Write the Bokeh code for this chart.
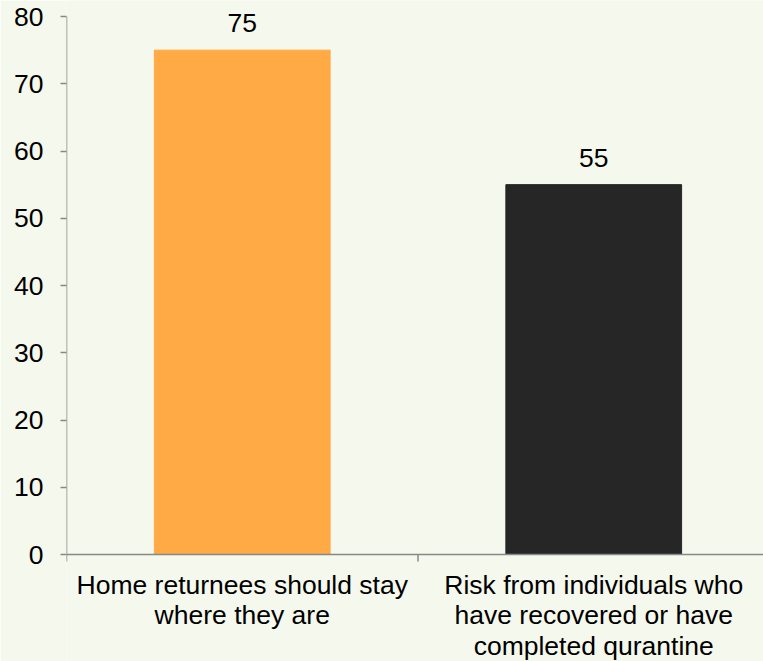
from bokeh.plotting import figure
from bokeh.models import FixedTicker, Span, ColumnDataSource, Range1d
from bokeh.core.properties import value
from bokeh.embed import file_html
from bokeh.resources import INLINE

categories = ["Home returnees should stay\nwhere they are",
              "Risk from individuals who\nhave recovered or have\ncompleted qurantine"]
values = [75, 55]
colors = ["#FFAA44", "#262626"]
y_ticks = [0, 10, 20, 30, 40, 50, 60, 70, 80]

BG = "#F5F8EC"
GRAY = "#888888"
FONT = "Liberation Sans"
FS = "26.5px"

xs = [i + 0.5 for i in range(len(categories))]
src = ColumnDataSource(dict(x=xs, top=values, color=colors, label=[str(v) for v in values],
                            cat=categories, zero=[0] * len(xs)))

# frame spans the full height; y=80 sits 16px below top, y=0 at 554px
ppu = 538 / 80.0
y_max = 80 + 16 / ppu
y_min = -(661 - 554) / ppu
tick_len = 7 / ppu

p = figure(width=763, height=661, output_backend="svg", toolbar_location=None,
           x_range=Range1d(0, 1.983), y_range=Range1d(y_min, y_max),
           min_border_left=66, min_border_top=0, min_border_right=0, min_border_bottom=0)
p.background_fill_color = BG
p.border_fill_color = BG
p.outline_line_color = None
p.grid.visible = False
p.xaxis.visible = False

p.vbar(x="x", top="top", bottom=0, width=0.5, color="color", source=src)
p.text(x="x", y="top", text="label", source=src, text_align="center",
       text_baseline="alphabetic", y_offset=-27, text_font=value(FONT),
       text_font_size=FS, text_color="#000000")

# category labels under the baseline
p.text(x="x", y="zero", text="cat", source=src, text_align="center",
       text_baseline="top", y_offset=15, text_font=value(FONT),
       text_font_size=FS, text_line_height=1.03, text_color="#000000")

# x axis baseline at 0, y axis line, and category separator tick
p.add_layout(Span(location=0, dimension="width", line_color=GRAY, line_width=1.5))
p.segment(x0=[0, 1], y0=[80, 0], x1=[0, 1], y1=[-tick_len, -tick_len],
          line_color=GRAY, line_width=1.5)

ya = p.yaxis[0]
ya.ticker = FixedTicker(ticks=y_ticks)
ya.axis_line_color = None
ya.major_tick_line_color = GRAY
ya.major_tick_line_width = 1.5
ya.major_tick_out = 6
ya.major_tick_in = 0
ya.minor_tick_line_color = None
ya.major_label_standoff = 17
ya.major_label_text_font = FONT
ya.major_label_text_font_size = FS
ya.major_label_text_color = "#000000"

open("out.html", "w").write(file_html(p, INLINE))
